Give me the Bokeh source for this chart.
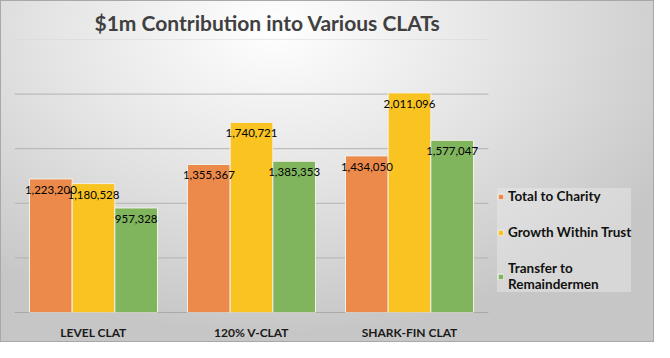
from bokeh.plotting import figure
from bokeh.models import ColumnDataSource, Range1d, Legend, LegendItem, FixedTicker
from bokeh.core.properties import value
from bokeh.embed import file_html
from bokeh.resources import INLINE

categories = ["LEVEL CLAT", "120% V-CLAT", "SHARK-FIN CLAT"]
total_to_charity = [1223200, 1355367, 1434050]
growth_within_trust = [1180528, 1740721, 2011096]
transfer_to_remaindermen = [957328, 1385353, 1577047]
series_names = ["Total to Charity", "Growth Within Trust", "Transfer to\nRemaindermen"]
colors = ["#EB8A4B", "#F9C421", "#80B55D"]
grid_ticks = [0, 500000, 1000000, 1500000, 2000000, 2500000]

def fmt(v):
    return f"{v:,}"

n = len(categories)
centers = [i + 0.5 for i in range(n)]
W, H = 654, 342
left, right_frame_px, top, bottom = 14, 488, 39, 21
cat_px = (right_frame_px - left) / n
x_end = (W - left) / cat_px

p = figure(x_range=Range1d(0, x_end), y_range=Range1d(0, grid_ticks[-1]),
           width=W, height=H, output_backend="svg", toolbar_location=None,
           min_border_left=left, min_border_right=0, min_border_top=top, min_border_bottom=bottom,
           title="$1m Contribution into Various CLATs")

p.styles = {"background": "radial-gradient(ellipse 70% 90% at 42% 8%, #ffffff 0%, #e4e4e4 50%, #c6c6c6 100%)",
            "box-shadow": "inset 0 0 0 1px #a8a8a8"}
p.background_fill_alpha = 0
p.border_fill_alpha = 0
p.outline_line_color = None

p.title.text_font = "Lato"
p.title.text_font_size = "21px"
p.title.text_font_style = "bold"
p.title.text_color = "#404040"
p.title.align = "left"
p.title.offset = 80
p.title.standoff = 10

# grid lines across the category area only
grid_colors = ["#8c8c8c" if t == 0 else ("#d6d6d6" if t == grid_ticks[-1] else "#b2b2b2") for t in grid_ticks]
p.segment(x0=[0] * len(grid_ticks), x1=[n] * len(grid_ticks), y0=grid_ticks, y1=grid_ticks,
          line_color=grid_colors, line_width=1)

w = 0.27
offs = [-w, 0, w]
series = [total_to_charity, growth_within_trust, transfer_to_remaindermen]
renderers = []
sources = []
for off, vals, col in zip(offs, series, colors):
    src = ColumnDataSource(dict(x=[c + off for c in centers], top=vals, lab=[fmt(v) for v in vals]))
    sources.append(src)
    r = p.vbar(x="x", top="top", width=w, source=src,
               fill_color=col, line_color="#f4f0e8", line_width=1)
    renderers.append(r)
for src in sources:
    p.text(x="x", y="top", text="lab", source=src,
           text_align="center", text_baseline="middle", y_offset=11,
           text_font=value("Lato"), text_font_size="11.5px", text_color="#000000")

p.yaxis.visible = False
p.grid.visible = False
p.xaxis.ticker = FixedTicker(ticks=centers)
p.xaxis.major_label_overrides = {c: lab for c, lab in zip(centers, categories)}
p.xaxis.axis_line_color = None
p.xaxis.major_tick_line_color = None
p.xaxis.minor_tick_line_color = None
p.xaxis.major_label_text_font = "Lato"
p.xaxis.major_label_text_font_style = "bold"
p.xaxis.major_label_text_font_size = "12px"
p.xaxis.major_label_text_color = "#1a1a1a"
p.xaxis.major_label_standoff = 6

legend = Legend(items=[LegendItem(label=nm, renderers=[r]) for nm, r in zip(series_names, renderers)],
                location=(right_frame_px - left + 9, 20), orientation="vertical")
legend.label_text_font = "Lato"
legend.label_text_font_style = "bold"
legend.label_text_font_size = "13.5px"
legend.label_text_color = "#111111"
legend.glyph_width = 7
legend.glyph_height = 7
legend.spacing = 20
legend.padding = 6
legend.label_standoff = 4
legend.background_fill_color = "#ececec"
legend.background_fill_alpha = 0.45
legend.border_line_color = None
p.add_layout(legend, "center")

open("out.html", "w").write(file_html(p, INLINE))
